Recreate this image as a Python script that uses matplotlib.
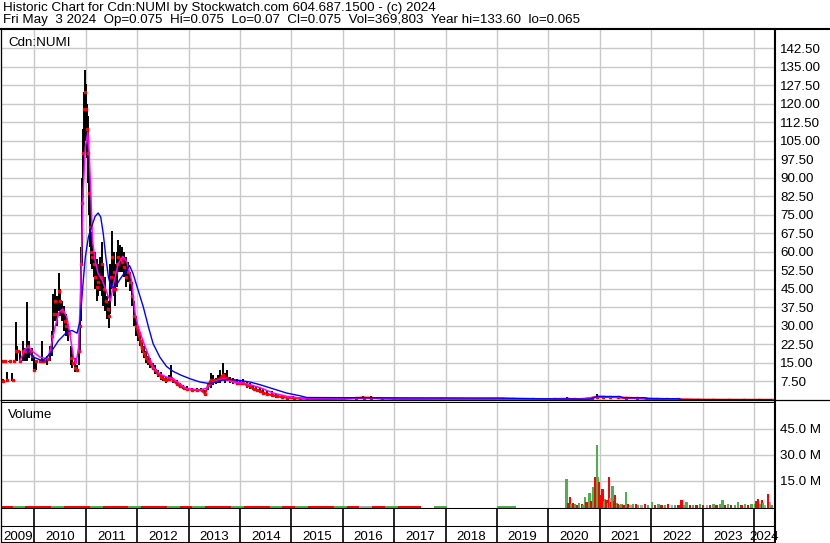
import numpy as np
import matplotlib.pyplot as plt
from matplotlib.lines import Line2D
from matplotlib.ticker import FormatStrFormatter

plt.rcParams['font.family'] = ['Liberation Sans', 'DejaVu Sans']

W, H = 830, 543
X0, X1 = 2009.35, 2024.39

# daily bars (decimal year, high, low, close)
t = [2009.36, 2009.38, 2009.42, 2009.47, 2009.51, 2009.57, 2009.60, 2009.635, 2009.67, 2009.72, 2009.77, 2009.82, 2009.86, 2009.90, 2009.95, 2009.99,
     2010.03, 2010.10, 2010.14, 2010.19, 2010.25, 2010.30, 2010.34, 2010.37, 2010.40, 2010.43, 2010.47, 2010.50, 2010.53, 2010.58, 2010.61, 2010.66, 2010.71, 2010.74, 2010.79, 2010.82, 2010.86, 2010.88, 2010.90, 2010.92, 2010.94, 2010.96, 2010.98,
     2011.00, 2011.02, 2011.04, 2011.06, 2011.08, 2011.10, 2011.12, 2011.15, 2011.18, 2011.21, 2011.24, 2011.28, 2011.31, 2011.34, 2011.38, 2011.42, 2011.45, 2011.48, 2011.51, 2011.54, 2011.57, 2011.60, 2011.63, 2011.67, 2011.70, 2011.74, 2011.78, 2011.82, 2011.86, 2011.90, 2011.94, 2011.98,
     2012.02, 2012.06, 2012.09, 2012.13, 2012.17, 2012.21, 2012.25, 2012.30, 2012.35, 2012.40, 2012.46, 2012.51, 2012.56, 2012.61, 2012.66, 2012.70, 2012.77, 2012.83, 2012.90, 2012.96,
     2013.06, 2013.16, 2013.25, 2013.32, 2013.38, 2013.43, 2013.48, 2013.53, 2013.58, 2013.62, 2013.66, 2013.71, 2013.75, 2013.81, 2013.87, 2013.94,
     2014.00, 2014.06, 2014.13, 2014.19, 2014.26, 2014.32, 2014.39, 2014.45, 2014.52, 2014.62, 2014.71, 2014.81, 2014.91,
     2015.04, 2015.17, 2015.30, 2015.50, 2015.75, 2016.00, 2016.25, 2016.40, 2016.55, 2016.75, 2017.00, 2017.25, 2017.50, 2017.90, 2018.30, 2018.70, 2019.10, 2019.30, 2019.70, 2020.10,
     2020.37, 2020.50, 2020.65, 2020.85, 2020.94, 2021.05, 2021.20, 2021.35, 2021.50, 2021.72, 2021.90, 2022.10, 2022.30, 2022.52, 2022.70, 2022.90, 2023.20, 2023.50, 2023.80, 2024.10, 2024.34]
hi = [16.0, 8.5, 16.0, 11.5, 16.0, 11.0, 16.0, 31.5, 22.0, 20.0, 24.0, 21.0, 39.6, 24.0, 21.0, 17.0,
      16, 16, 24, 16.5, 18, 22, 28, 43, 45, 42, 51.3, 45, 40, 38, 35, 31, 22, 19, 17, 14, 22, 35, 62, 90, 110, 125, 133.6,
      128, 120, 115, 100, 85, 68, 66, 60, 60, 57, 55, 58, 64, 55, 50, 42, 40, 55, 68.7, 60, 55, 60, 64.7, 63, 62, 60, 58, 56, 52, 48, 40, 34,
      30, 27, 24, 22, 20, 18, 17, 15, 14, 12, 11.5, 10, 9.5, 10, 14, 9, 8, 7, 6, 5.5,
      5, 5, 4.8, 4, 7, 11, 10, 9, 10, 12, 14.8, 11, 12, 9.5, 9, 8.5,
      8, 8.5, 7.5, 7, 6, 5.5, 5, 4.5, 4, 3.5, 2.5, 2, 1.8,
      1.5, 1.2, 1.0, 0.9, 0.8, 0.9, 1.2, 1.6, 1.5, 1.1, 0.9, 0.8, 0.7, 0.8, 0.6, 0.6, 0.8, 0.7, 0.6, 0.6,
      1.4, 0.6, 0.6, 1.2, 2.5, 1.8, 1.6, 1.5, 1.1, 1.0, 0.8, 0.7, 0.6, 0.4, 0.5, 0.3, 0.2, 0.15, 0.12, 0.1, 0.075]
lo = [16.0, 7.5, 16.0, 7.6, 15.5, 7.8, 15.8, 16.0, 16.0, 16.0, 16.0, 16.0, 16.0, 17.0, 16.0, 11.3,
      12, 16, 16, 15.8, 14, 16, 18, 26, 32, 30, 36, 34, 32, 28, 26, 24, 14, 13, 11.5, 11.3, 14, 20, 32, 55, 82, 100, 112,
      105, 98, 88, 75, 62, 55, 53, 50, 45, 40, 42, 44, 42, 38, 36, 33, 29, 35, 45, 42, 38, 46, 52, 52, 52, 50, 46, 48, 44, 38, 30, 26,
      24, 22, 19, 17, 15, 14, 13, 12, 10.5, 9.5, 8, 7.5, 7, 7.5, 8, 7, 6, 5, 4.5, 4,
      4, 3.8, 3.8, 1.8, 4, 5, 6, 6.5, 7, 7, 8, 7, 7.5, 7, 6.5, 6,
      6, 6, 5, 4.5, 4, 3.5, 3, 2.5, 2, 1.5, 1, 0.8, 0.6,
      0.5, 0.4, 0.4, 0.3, 0.3, 0.3, 0.4, 0.6, 0.5, 0.4, 0.3, 0.3, 0.3, 0.3, 0.3, 0.3, 0.3, 0.3, 0.3, 0.3,
      0.3, 0.2, 0.2, 0.3, 0.9, 1.0, 1.0, 0.8, 0.6, 0.5, 0.4, 0.3, 0.3, 0.2, 0.1, 0.1, 0.08, 0.07, 0.06, 0.065, 0.07]
cl = [16.0, 7.6, 16.0, 8.0, 16.0, 8.2, 16.0, 20.0, 20.0, 16.0, 20.0, 20.0, 22.0, 20.0, 18.0, 12.0,
      16, 16, 16, 16, 16.5, 20, 26, 35, 40, 35, 44, 40, 36, 32, 30, 27, 17, 15, 13, 12, 20, 30, 55, 80, 100, 118, 125,
      118, 110, 100, 84, 70, 60, 58, 55, 50, 46, 48, 50, 55, 45, 40, 37, 34, 50, 58, 52, 45, 55, 58, 57, 56, 54, 50, 52, 48, 42, 34, 30,
      27, 24, 21, 19, 17, 16, 15, 13, 12, 10.5, 9.5, 8.5, 8, 8.5, 9, 8, 6.5, 5.5, 5, 4.5,
      4.2, 4, 4, 2.5, 6, 8, 8, 8, 8.5, 9, 10, 8.5, 9, 8, 7.5, 7,
      7, 7, 6, 5.5, 4.5, 4, 3.5, 3, 2.5, 2, 1.5, 1.2, 1,
      0.8, 0.6, 0.5, 0.4, 0.4, 0.5, 0.8, 1.0, 0.9, 0.6, 0.5, 0.4, 0.4, 0.5, 0.4, 0.4, 0.5, 0.4, 0.4, 0.4,
      0.5, 0.3, 0.3, 0.8, 1.4, 1.3, 1.2, 1.1, 0.9, 0.8, 0.6, 0.5, 0.4, 0.3, 0.2, 0.15, 0.12, 0.1, 0.09, 0.08, 0.075]

# moving averages as drawn (magenta short, blue long)
ma1_t = [2009.72, 2009.82, 2009.88, 2009.98, 2010.11, 2010.24, 2010.30, 2010.40, 2010.48, 2010.55, 2010.63, 2010.69, 2010.76, 2010.81, 2010.86, 2010.90, 2010.95, 2010.99,
         2011.04, 2011.07, 2011.10, 2011.13, 2011.18, 2011.24, 2011.31, 2011.37, 2011.44, 2011.48, 2011.54, 2011.63, 2011.72, 2011.80, 2011.89, 2011.96,
         2012.02, 2012.12, 2012.22, 2012.31, 2012.44, 2012.57, 2012.70, 2012.83, 2012.96, 2013.22, 2013.35, 2013.48, 2013.68, 2013.87, 2014.13, 2014.39, 2014.65, 2014.91,
         2015.17, 2015.5, 2016.0, 2016.5, 2017.0, 2018.0, 2019.0, 2020.3, 2020.6, 2020.95, 2021.3, 2021.5, 2021.9, 2022.5, 2023.0, 2024.34]
ma1 = [16.0, 20.7, 21.6, 19.4, 17.4, 16.7, 19.4, 29.5, 35.6, 36.9, 33.6, 26.8, 17.4, 14.7, 21.4, 45.7, 84.9, 102.5,
       108.6, 98.4, 82.2, 64.7, 56.6, 51.2, 49.1, 45.7, 41.7, 40.3, 47.1, 55.2, 58.2, 55.9, 48.5, 35.0,
       29.5, 23.5, 18.1, 13.3, 10.6, 9.3, 8.6, 6.6, 4.5, 4.1, 4.8, 7.3, 8.6, 7.3, 6.6, 5.0, 2.8, 1.5,
       0.8, 0.6, 0.5, 0.9, 0.6, 0.4, 0.4, 0.4, 0.3, 1.3, 1.2, 0.9, 0.6, 0.2, 0.1, 0.08]
ma2_t = [2009.85, 2009.98, 2010.17, 2010.30, 2010.47, 2010.63, 2010.73, 2010.83, 2010.89, 2010.94, 2010.99,
         2011.05, 2011.11, 2011.18, 2011.24, 2011.29, 2011.34, 2011.39, 2011.44, 2011.49, 2011.57, 2011.67, 2011.76, 2011.85, 2011.92,
         2012.02, 2012.12, 2012.22, 2012.31, 2012.44, 2012.57, 2012.70, 2012.86, 2013.03, 2013.22, 2013.42, 2013.61, 2013.81,
         2014.00, 2014.19, 2014.39, 2014.65, 2014.91, 2015.17, 2015.3, 2016.5, 2019.0, 2019.84, 2020.5, 2020.8, 2020.95,
         2021.39, 2021.45, 2021.88, 2021.95, 2022.52, 2022.6, 2024.34]
ma2 = [20.1, 17.4, 15.8, 18.7, 24.1, 27.5, 28.2, 27.1, 32.2, 45.7, 57.9,
       66.0, 70.1, 74.4, 75.8, 74.2, 67.4, 57.9, 49.8, 45.7, 45.7, 49.1, 51.8, 54.5, 51.2,
       44.4, 37.6, 29.5, 22.8, 17.4, 13.6, 11.6, 10.0, 8.6, 7.3, 6.6, 7.9, 8.4,
       7.9, 7.3, 6.2, 4.5, 2.8, 1.7, 1.0, 0.9, 0.8, 0.5, 0.4, 0.3, 1.4,
       1.4, 0.9, 0.9, 0.5, 0.5, 0.1, 0.1]

# volume, millions
vol_old_t = [2009.45, 2009.70, 2009.95, 2010.20, 2010.45, 2010.70, 2010.95, 2011.20, 2011.45, 2011.70, 2011.95, 2012.20,
             2012.45, 2012.70, 2012.95, 2013.20, 2013.45, 2013.70, 2013.95, 2014.20, 2014.45, 2014.70, 2014.95, 2015.20,
             2015.45, 2015.70, 2015.95, 2016.20, 2016.45, 2016.70, 2016.95, 2017.20, 2017.40, 2017.90, 2019.12, 2019.25]
vol_old = [0.1, 0.1, 0.05, 0.1, 0.15, 0.1, 0.2, 0.15, 0.1, 0.1, 0.15, 0.1,
           0.1, 0.05, 0.1, 0.1, 0.15, 0.1, 0.1, 0.05, 0.1, 0.1, 0.05, 0.1,
           0.05, 0.1, 0.05, 0.1, 0.15, 0.1, 0.05, 0.1, 0.1, 0.05, 0.1, 0.1]
vol_old_c = ['r', 'g', 'r', 'r', 'g', 'r', 'r', 'g', 'r', 'r', 'g', 'r',
             'r', 'g', 'r', 'g', 'r', 'r', 'g', 'r', 'r', 'g', 'r', 'g',
             'r', 'r', 'g', 'r', 'gray', 'r', 'g', 'r', 'r', 'g', 'g', 'g']
vol_t = [2020.355, 2020.39, 2020.42, 2020.45, 2020.48, 2020.52, 2020.56, 2020.60, 2020.65, 2020.68, 2020.71, 2020.74, 2020.80, 2020.83,
         2020.87, 2020.91, 2020.94, 2020.96, 2020.98, 2021.02, 2021.055, 2021.08, 2021.10, 2021.13, 2021.16, 2021.18, 2021.21, 2021.23,
         2021.25, 2021.28, 2021.30, 2021.33, 2021.36, 2021.39, 2021.42, 2021.46, 2021.51, 2021.55, 2021.60, 2021.65, 2021.70, 2021.75,
         2021.81, 2021.88, 2021.94, 2022.01, 2022.07, 2022.14, 2022.20, 2022.27, 2022.33, 2022.40, 2022.46, 2022.53, 2022.59, 2022.64,
         2022.69, 2022.75, 2022.82, 2022.88, 2022.95, 2023.01, 2023.08, 2023.14, 2023.21, 2023.27, 2023.34, 2023.39, 2023.44, 2023.50,
         2023.56, 2023.63, 2023.69, 2023.76, 2023.82, 2023.89, 2023.95, 2024.02, 2024.05, 2024.08, 2024.12, 2024.15, 2024.18, 2024.21,
         2024.27, 2024.31, 2024.34]
vol = [16.1, 2.0, 5.4, 1.5, 2.0, 1.5, 1.0, 2.0, 1.5, 1.0, 5.4, 2.5, 7.7, 3.0,
       11.5, 17.0, 35.4, 17.0, 14.1, 6.4, 10.3, 3.0, 4.4, 3.5, 2.0, 17.0, 5.0, 2.5,
       11.6, 3.0, 6.4, 2.0, 1.5, 1.0, 1.5, 1.0, 8.3, 1.5, 0.8, 1.2, 1.5, 0.8,
       1.0, 1.2, 0.8, 2.5, 1.0, 1.5, 1.0, 0.8, 1.2, 0.6, 1.0, 0.8, 3.5, 1.0,
       2.5, 0.8, 1.0, 0.6, 1.2, 0.8, 0.6, 1.0, 1.2, 0.8, 1.5, 3.5, 1.0, 1.2,
       0.8, 1.0, 2.5, 1.0, 1.5, 1.0, 1.5, 1.2, 3.0, 4.4, 1.5, 3.5, 2.0, 1.0,
       7.0, 2.5, 0.8]
vol_c = ['g', 'r', 'r', 'g', 'r', 'g', 'r', 'g', 'r', 'g', 'g', 'r', 'g', 'r',
         'g', 'r', 'g', 'g', 'r', 'r', 'r', 'g', 'g', 'r', 'gray', 'r', 'gray', 'r',
         'g', 'r', 'r', 'g', 'r', 'g', 'g', 'r', 'g', 'r', 'gray', 'g', 'r', 'g',
         'gray', 'r', 'g', 'g', 'r', 'g', 'r', 'g', 'r', 'gray', 'g', 'r', 'r', 'g',
         'g', 'r', 'g', 'r', 'g', 'r', 'gray', 'r', 'g', 'r', 'g', 'g', 'r', 'g',
         'r', 'g', 'g', 'r', 'g', 'r', 'g', 'g', 'r', 'r', 'g', 'r', 'g', 'gray',
         'r', 'gray', 'g']

years = list(range(2009, 2025))
price_ticks = [7.5, 15, 22.5, 30, 37.5, 45, 52.5, 60, 67.5, 75, 82.5, 90, 97.5, 105, 112.5, 120, 127.5, 135, 142.5]
vol_ticks = [15, 30, 45]

cmap = {'r': '#ff0000', 'g': '#4cb04c', 'gray': '#a8a8a8'}
grid = '#c8c8c8'
FS = 9.6

fig = plt.figure(figsize=(W / 100, H / 100), dpi=100)


def box(x0, y0, x1, y1):
    return fig.add_axes([x0 / W, 1 - y1 / H, (x1 - x0) / W, (y1 - y0) / H])


def ptext(x, y, s, **kw):
    fig.text(x / W, 1 - y / H, s, fontsize=FS, color='black', **kw)


def pline(xs, ys, lw):
    fig.add_artist(Line2D([x / W for x in xs], [1 - y / H for y in ys], color='black', lw=lw,
                          transform=fig.transFigure, solid_capstyle='butt'))


ax = box(1, 28, 774, 400)
av = box(1, 402, 774, 508)
ab = box(1, 508, 774, 526)
al = box(1, 526, 774, 542)

for a in (ax, av, ab, al):
    a.set_xlim(X0, X1)
    a.set_xticks(years[1:])
    a.tick_params(axis='x', length=0, labelbottom=False)
    for s in a.spines.values():
        s.set_color('black')
        s.set_linewidth(0.75)

# price panel
ax.set_ylim(0, 150.8)
ax.set_yticks(price_ticks)
ax.yaxis.tick_right()
ax.yaxis.set_major_formatter(FormatStrFormatter('%.2f'))
ax.tick_params(axis='y', length=0, pad=4.5, labelsize=FS)
ax.grid(True, color=grid, lw=1)
ax.set_axisbelow(True)

tt = np.array(t)
cc = np.array(cl)
ax.vlines(tt, lo, hi, color='black', lw=1.4, zorder=2)
late = tt >= 2011.95
ax.plot(tt[late], cc[late], color='#ff0000', lw=1.5, zorder=3)
ax.plot(tt + 0.006, cc, ls='none', marker='s', ms=1.7, color='#ff0000', zorder=3)
ax.plot(ma1_t, ma1, color='#ff00ff', lw=1.1, zorder=4)
ax.plot(ma2_t, ma2, color='#0000ff', lw=1.0, zorder=5)

# volume panel
vb = -0.9
av.set_ylim(vb, 60.6)
av.set_yticks(vol_ticks)
av.yaxis.tick_right()
av.yaxis.set_major_formatter(FormatStrFormatter('%.1f M'))
av.tick_params(axis='y', length=0, pad=4.5, labelsize=FS)
av.grid(True, color=grid, lw=1)
av.set_axisbelow(True)
av.bar(vol_old_t, [v - vb for v in vol_old], bottom=vb, width=0.25,
       color=[cmap[c] for c in vol_old_c], lw=0)
av.bar(vol_t, [v - vb for v in vol], bottom=vb, width=0.045,
       color=[cmap[c] for c in vol_c], lw=0)

# date band
for a in (ab, al):
    a.set_ylim(0, 1)
    a.set_yticks([])
    for y in years[1:]:
        a.axvline(y, color='black', lw=1.2)
for y in years:
    left = max(y, X0)
    right = min(y + 1, X1)
    al.text((left + right) / 2, 0.15, str(y), ha='center', va='baseline', fontsize=FS)

# frame lines
pline([0, 830], [28.5, 28.5], 1.5)
pline([0, 830], [400, 400], 0.9)
pline([774.5, 774.5], [28, 543], 1.5)
pline([0.5, 0.5], [28, 543], 0.9)

# texts
ptext(3, 11.5, 'Historic Chart for Cdn:NUMI by Stockwatch.com 604.687.1500 - (c) 2024', va='baseline')
ptext(3, 23, 'Fri May  3 2024  Op=0.075  Hi=0.075  Lo=0.07  Cl=0.075  Vol=369,803  Year hi=133.60  lo=0.065', va='baseline')
ptext(8, 46, 'Cdn:NUMI', va='baseline')
ptext(8, 418, 'Volume', va='baseline')

fig.savefig('out.png', dpi=100)
